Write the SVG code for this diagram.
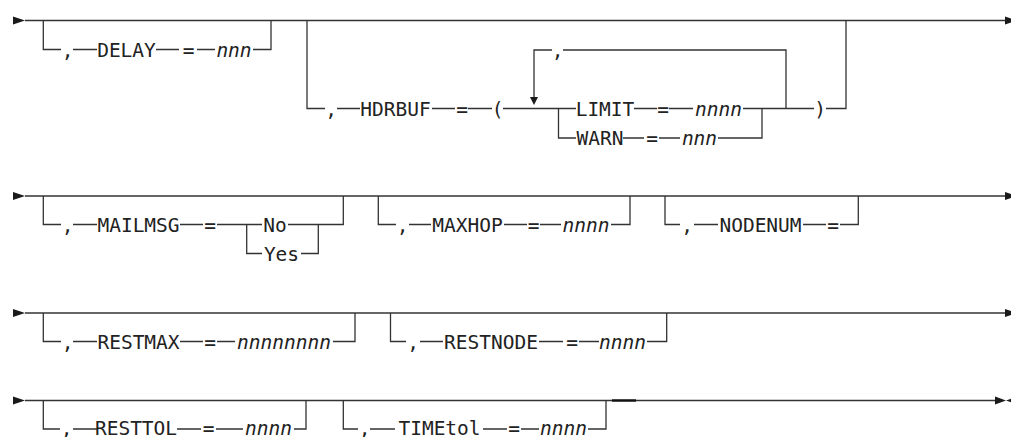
<svg xmlns="http://www.w3.org/2000/svg" width="1011" height="437" viewBox="0 0 1011 437">
<style>
.l{fill:none;stroke:#333;stroke-width:1.3}
.t{font-family:"DejaVu Sans Mono","Liberation Mono",monospace;font-size:19.5px;fill:#222;text-anchor:middle}
.i{font-style:italic}
.a{fill:#1a1a1a}
</style>
<rect width="1011" height="437" fill="#fff"/>
<g id="connectors">
<path class="l" d="M25 20.5H1005"/>
<path class="l" d="M43.3 20.5V49.5H61M73 49.5H97M156 49.5H179M197 49.5H215M253 49.5H271V20.5"/>
<path class="l" d="M307 20.5V108.5H325M337 108.5H360M432 108.5H455M468 108.5H492M503 108.5H576"/>
<path class="l" d="M534 97V50H552M563 50H786V108.5"/>
<path class="l" d="M558.5 108.5V138H576M623 138H644M659 138H680M718 138H762V108.5"/>
<path class="l" d="M634 108.5H657M669 108.5H693M743 108.5H814M826 108.5H846V20.5"/>
<path class="l" d="M25 196H1005"/>
<path class="l" d="M43.3 196V224.5H61M73 224.5H97M180 224.5H203M217 224.5H262M246.7 224.5V253.5H262M288 224.5H343.3V196M301 253.5H318.3V224.5"/>
<path class="l" d="M378.3 196V224.5H396M409 224.5H431M504 224.5H527M540 224.5H561M611 224.5H630V196"/>
<path class="l" d="M665 196V224.5H680M694 224.5H718M803 224.5H826M840 224.5H858.3V196"/>
<path class="l" d="M25 313H1005"/>
<path class="l" d="M43.3 313V341.5H61M73 341.5H97M180 341.5H203M217 341.5H235M333 341.5H355V313"/>
<path class="l" d="M390.5 313V341.5H406M420 341.5H443M539 341.5H563M579 341.5H599M647 341.5H666.7V313"/>
<path class="l" d="M25 400.5H995"/>
<path class="l" d="M43.3 400.5V429H60M73 429H97M177 429H201M216 429H243M294 429H306V400.5"/>
<path class="l" d="M343.3 400.5V429H358M370 429H395M483 429H507M521 429H539M588 429H606V400.5"/>
<path d="M612 400.5H636" fill="none" stroke="#111" stroke-width="2.4"/>
<polygon class="a" points="13,16.5 25,20.5 13,24.5"/>
<polygon class="a" points="1005,16.5 1017,20.5 1005,24.5"/>
<polygon class="a" points="13,192 25,196 13,200"/>
<polygon class="a" points="1005,192 1017,196 1005,200"/>
<polygon class="a" points="13,309 25,313 13,317"/>
<polygon class="a" points="1005,309 1017,313 1005,317"/>
<polygon class="a" points="13,396.5 25,400.5 13,404.5"/>
<polygon class="a" points="995,396.5 1006,400.5 995,404.5"/>
<polygon class="a" points="1017,396.5 1006,400.5 1017,404.5"/>
<polygon class="a" points="530,97 538,97 534,105"/>
</g>
<g id="delay">
<text class="t" x="67.5" y="56.5">,</text>
<text class="t" x="126.5" y="56.5">DELAY</text>
<text class="t" x="188.5" y="56.5">=</text>
<text class="t i" x="234" y="56.5">nnn</text>
</g>
<g id="hdrbuf">
<text class="t" x="331" y="115.5">,</text>
<text class="t" x="395.5" y="115.5">HDRBUF</text>
<text class="t" x="462" y="115.5">=</text>
<text class="t" x="497.5" y="115.5">(</text>
<text class="t" x="557.5" y="57">,</text>
<text class="t" x="820" y="115.5">)</text>
</g>
<g id="limit">
<text class="t" x="605" y="115.5">LIMIT</text>
<text class="t" x="663" y="115.5">=</text>
<text class="t i" x="718.5" y="115.5">nnnn</text>
</g>
<g id="warn">
<text class="t" x="600" y="145">WARN</text>
<text class="t" x="652" y="145">=</text>
<text class="t i" x="699.5" y="145">nnn</text>
</g>
<g id="mailmsg">
<text class="t" x="67.5" y="231.5">,</text>
<text class="t" x="138.5" y="231.5">MAILMSG</text>
<text class="t" x="210" y="231.5">=</text>
<text class="t" x="275" y="231.5">No</text>
<text class="t" x="281.5" y="260.5">Yes</text>
</g>
<g id="maxhop">
<text class="t" x="402.5" y="231.5">,</text>
<text class="t" x="467.5" y="231.5">MAXHOP</text>
<text class="t" x="533.5" y="231.5">=</text>
<text class="t i" x="586" y="231.5">nnnn</text>
</g>
<g id="nodenum">
<text class="t" x="687" y="231.5">,</text>
<text class="t" x="760.5" y="231.5">NODENUM</text>
<text class="t" x="833" y="231.5">=</text>
</g>
<g id="restmax">
<text class="t" x="67.5" y="348.5">,</text>
<text class="t" x="138.5" y="348.5">RESTMAX</text>
<text class="t" x="210" y="348.5">=</text>
<text class="t i" x="284" y="348.5">nnnnnnnn</text>
</g>
<g id="restnode">
<text class="t" x="413" y="348.5">,</text>
<text class="t" x="491" y="348.5">RESTNODE</text>
<text class="t" x="572" y="348.5">=</text>
<text class="t i" x="622.5" y="348.5">nnnn</text>
</g>
<g id="resttol">
<text class="t" x="66.5" y="435">,</text>
<text class="t" x="136" y="435">RESTTOL</text>
<text class="t" x="208.5" y="435">=</text>
<text class="t i" x="268.5" y="435">nnnn</text>
</g>
<g id="timetol">
<text class="t" x="364.5" y="435">,</text>
<text class="t" x="439.5" y="435">TIMEtol</text>
<text class="t" x="514" y="435">=</text>
<text class="t i" x="563.5" y="435">nnnn</text>
</g>
</svg>
